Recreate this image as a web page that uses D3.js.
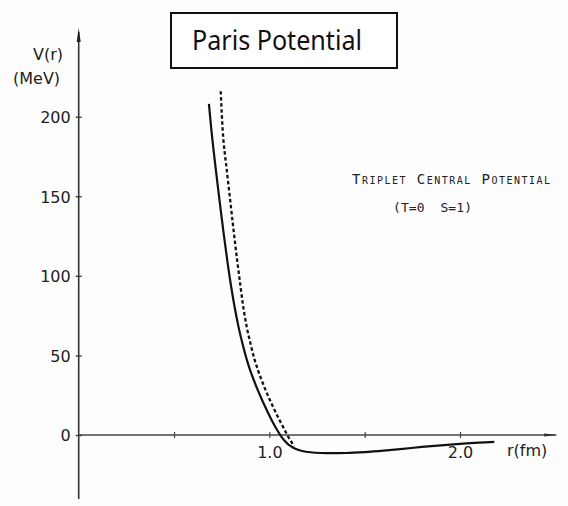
<!DOCTYPE html>
<html>
<head>
<meta charset="utf-8">
<script src="https://cdn.jsdelivr.net/npm/d3@7"></script>
<style>
  html, body { margin: 0; padding: 0; background: #fdfdfd; }
  svg { display: block; }
  .lbl { font-family: "DejaVu Sans", sans-serif; fill: #222; }
</style>
</head>
<body>
<svg id="chart" width="568" height="506"></svg>
<script>
// Paris potential, triplet central part (T=0, S=1)
const rTicks = [0.5, 1.0, 1.5, 2.0];
const rTickLabels = ["", "1.0", "", "2.0"];
const vTicks = [0, 50, 100, 150, 200];

// full curve
const solidR = [0.683, 0.70, 0.72, 0.74, 0.76, 0.78, 0.80, 0.82, 0.84, 0.86, 0.88, 0.90, 0.92, 0.94,
                0.96, 0.98, 1.00, 1.02, 1.04, 1.06, 1.08, 1.10, 1.15, 1.20, 1.30, 1.40, 1.50,
                1.60, 1.70, 1.80, 1.90, 2.00, 2.10, 2.18];
const solidV = [208, 187, 166, 146, 127, 109, 93, 79, 67, 57, 48, 40.5, 34, 28,
                22.5, 17.3, 12.3, 7.6, 3.3, -0.5, -3.6, -6, -9.3, -10.7, -11.4, -11.3, -10.7,
                -9.8, -8.7, -7.5, -6.5, -5.6, -4.8, -4.3];

// dashed curve
const dashR = [0.745, 0.758, 0.777, 0.796, 0.814, 0.832, 0.849, 0.865, 0.883, 0.902, 0.921, 0.941,
               0.961, 0.981, 1.001, 1.021, 1.041, 1.061, 1.080, 1.096, 1.115, 1.130];
const dashV = [216, 187, 166, 146, 127, 109, 93, 79, 67, 57, 48, 40.5,
               34, 28, 22.5, 17.3, 12.3, 7.6, 3.3, -0.5, -4.2, -7.2];

const svg = d3.select("#chart");

const x = d3.scaleLinear().domain([0, 2]).range([78.7, 460]);
const y = d3.scaleLinear().domain([0, 200]).range([435, 116.7]);

const g = svg.append("g");

// y axis line + arrow
g.append("line")
  .attr("x1", x(0)).attr("x2", x(0))
  .attr("y1", 32).attr("y2", 499)
  .attr("stroke", "#333").attr("stroke-width", 1.6);
g.append("path")
  .attr("d", `M${x(0)},28 L${x(0) - 2},42 L${x(0) + 2},42 Z`)
  .attr("fill", "#222");

// x axis line + arrow
g.append("line")
  .attr("x1", x(0)).attr("x2", 556)
  .attr("y1", y(0)).attr("y2", y(0))
  .attr("stroke", "#444").attr("stroke-width", 1.3);
g.append("path")
  .attr("d", `M558,${y(0)} L544,${y(0) - 1.5} L544,${y(0) + 1.5} Z`)
  .attr("fill", "#333");

const yAxis = d3.axisLeft(y).tickValues(vTicks).tickSize(0).tickPadding(8).tickFormat(d3.format("d"));
const ya = g.append("g").attr("transform", `translate(${x(0)},0)`).call(yAxis);
ya.select(".domain").remove();
ya.selectAll("text")
  .attr("class", "lbl")
  .attr("font-size", 16)
  .attr("dy", "0.36em")
  .attr("fill", "#222");
ya.selectAll(".tick").append("line")
  .attr("x1", -3).attr("x2", 3)
  .attr("stroke", "#333").attr("stroke-width", 1.3);

const xAxis = d3.axisBottom(x).tickValues(rTicks).tickSize(0).tickPadding(12)
  .tickFormat((d, i) => rTickLabels[i]);
const xa = g.append("g").attr("transform", `translate(0,${y(0)})`).call(xAxis);
xa.select(".domain").remove();
xa.selectAll("text")
  .attr("class", "lbl")
  .attr("font-size", 16)
  .attr("fill", "#222");
xa.selectAll(".tick").append("line")
  .attr("y1", -3).attr("y2", 3)
  .attr("stroke", "#444").attr("stroke-width", 1.2);

// axis titles
svg.append("text").attr("class", "lbl").attr("font-size", 16)
  .attr("x", 33).attr("y", 60).text("V(r)");
svg.append("text").attr("class", "lbl").attr("font-size", 16)
  .attr("x", 13).attr("y", 84).text("(MeV)");
svg.append("text").attr("class", "lbl").attr("font-size", 16)
  .attr("x", 507).attr("y", 456).text("r(fm)");

// curves
const line = d3.line()
  .x(d => x(d[0]))
  .y(d => y(d[1]))
  .curve(d3.curveCatmullRom.alpha(0.5));

svg.append("path")
  .datum(d3.zip(dashR, dashV))
  .attr("d", line)
  .attr("fill", "none")
  .attr("stroke", "#111")
  .attr("stroke-width", 2.3)
  .attr("stroke-dasharray", "3.5,2.5");

svg.append("path")
  .datum(d3.zip(solidR, solidV))
  .attr("d", line)
  .attr("fill", "none")
  .attr("stroke", "#111")
  .attr("stroke-width", 2.2);

// annotation
svg.append("text")
  .attr("x", 352).attr("y", 184)
  .attr("font-family", "DejaVu Sans Mono, monospace")
  .attr("font-size", 14)
  .style("font-variant", "small-caps")
  .attr("fill", "#222")
  .attr("textLength", 198)
  .attr("lengthAdjust", "spacing")
  .text("Triplet Central Potential");
svg.append("text")
  .attr("x", 393).attr("y", 212)
  .attr("font-family", "DejaVu Sans Mono, monospace")
  .attr("font-size", 13)
  .attr("fill", "#222")
  .attr("textLength", 79)
  .attr("xml:space", "preserve")
  .text("(T=0  S=1)");

// title box
svg.append("rect")
  .attr("x", 171).attr("y", 13)
  .attr("width", 226).attr("height", 55)
  .attr("fill", "#fff")
  .attr("stroke", "#111")
  .attr("stroke-width", 2);
svg.append("text")
  .attr("x", 192).attr("y", 50)
  .attr("font-family", "Noto Sans, sans-serif")
  .attr("font-size", 27)
  .attr("fill", "#111")
  .attr("textLength", 170)
  .attr("lengthAdjust", "spacingAndGlyphs")
  .text("Paris Potential");
</script>
</body>
</html>
